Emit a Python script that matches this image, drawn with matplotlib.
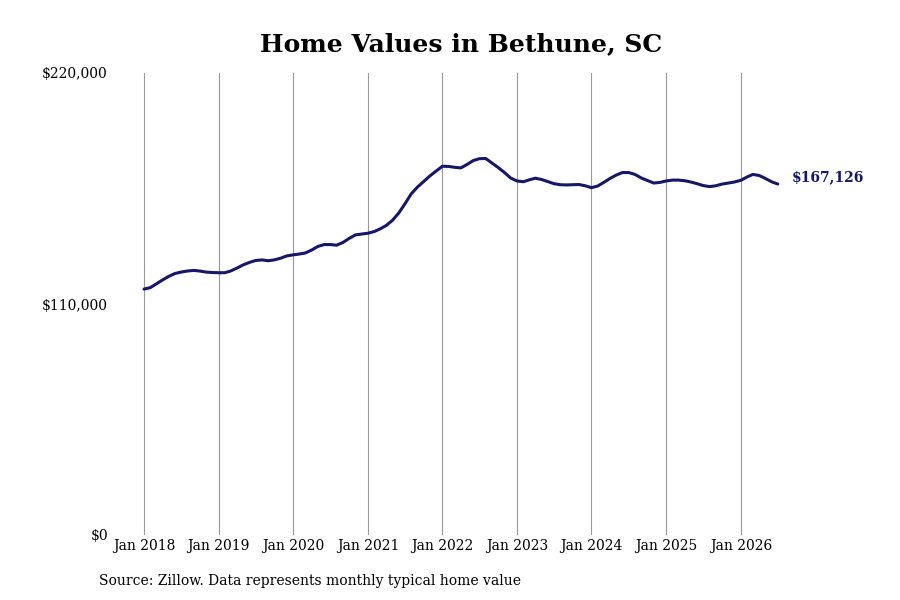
import matplotlib
matplotlib.use("Agg")
import matplotlib.pyplot as plt
import matplotlib.dates as mdates
import pandas as pd

# monthly typical home value, Jan 2018 .. Jul 2026
values = [
    117100, 117800, 119500, 121400, 123100, 124500, 125200, 125700, 126000, 125700, 125200, 125000,
    124900, 124900, 125700, 127100, 128600, 129800, 130700, 131000, 130600, 131000, 131800, 132900,
    133400, 133800, 134300, 135700, 137400, 138300, 138300, 138000, 139300, 141200, 142900, 143300,
    143700, 144500, 145700, 147400, 149800, 153300, 157600, 162400, 165700, 168300, 171000, 173300,
    175600, 175500, 175100, 174800, 176400, 178300, 179200, 179300, 177100, 175000, 172600, 170000,
    168600, 168200, 169100, 169900, 169300, 168300, 167300, 166800, 166700, 166800, 166900, 166300,
    165400, 166200, 167900, 169800, 171400, 172600, 172600, 171700, 170000, 168800, 167600, 167900,
    168600, 169000, 169000, 168700, 168100, 167300, 166400, 165900, 166300, 167100, 167600, 168100,
    168900, 170500, 171700, 171200, 169800, 168200, 167126,
]
dates = pd.date_range("2018-01-01", periods=len(values), freq="MS")
years = list(range(2018, 2027))
yticks = [0, 110000, 220000]
ylabels = ["$0", "$110,000", "$220,000"]

plt.rcParams['font.family'] = ['DejaVu Serif']
line_color = "#16166b"

fig = plt.figure(figsize=(9, 6), dpi=100)
# axes placed in pixels: left 110, right 790, top 73, bottom 535
ax = fig.add_axes([110 / 900, 65 / 600, 680 / 900, 462 / 600])

ax.plot(dates, values, color=line_color, linewidth=2.2, solid_capstyle="round")

# x scale: Jan 2018 at px 144, ~74.6 px per year
jan18 = mdates.date2num(pd.Timestamp("2018-01-01"))
days_per_px = 365.25 / 74.6
ax.set_xlim(jan18 - 34 * days_per_px, jan18 + 646 * days_per_px)
ax.set_ylim(0, 220000)

ax.set_xticks([pd.Timestamp(f"{y}-01-01") for y in years])
ax.set_xticklabels([f"Jan {y}" for y in years], fontsize=10)
ax.set_yticks(yticks)
ax.set_yticklabels(ylabels, fontsize=10)
ax.tick_params(axis="both", length=0)
ax.tick_params(axis="x", pad=3)
ax.tick_params(axis="y", pad=1.5)

ax.grid(axis="x", color="#999999", linewidth=0.8)
ax.grid(axis="y", visible=False)
for s in ax.spines.values():
    s.set_visible(False)

ax.annotate(f"${values[-1]:,}", xy=(dates[-1], values[-1]), xytext=(10, 5),
            textcoords="offset points", ha="left", va="center",
            fontsize=10, fontweight="bold", color=line_color)

fig.text(461 / 900, 1 - 44 / 600, "Home Values in Bethune, SC", ha="center", va="center",
         fontsize=18, fontweight="bold")
fig.text(99 / 900, 1 - 581 / 600, "Source: Zillow. Data represents monthly typical home value",
         ha="left", va="center", fontsize=10)

fig.savefig("out.png", dpi=100)
